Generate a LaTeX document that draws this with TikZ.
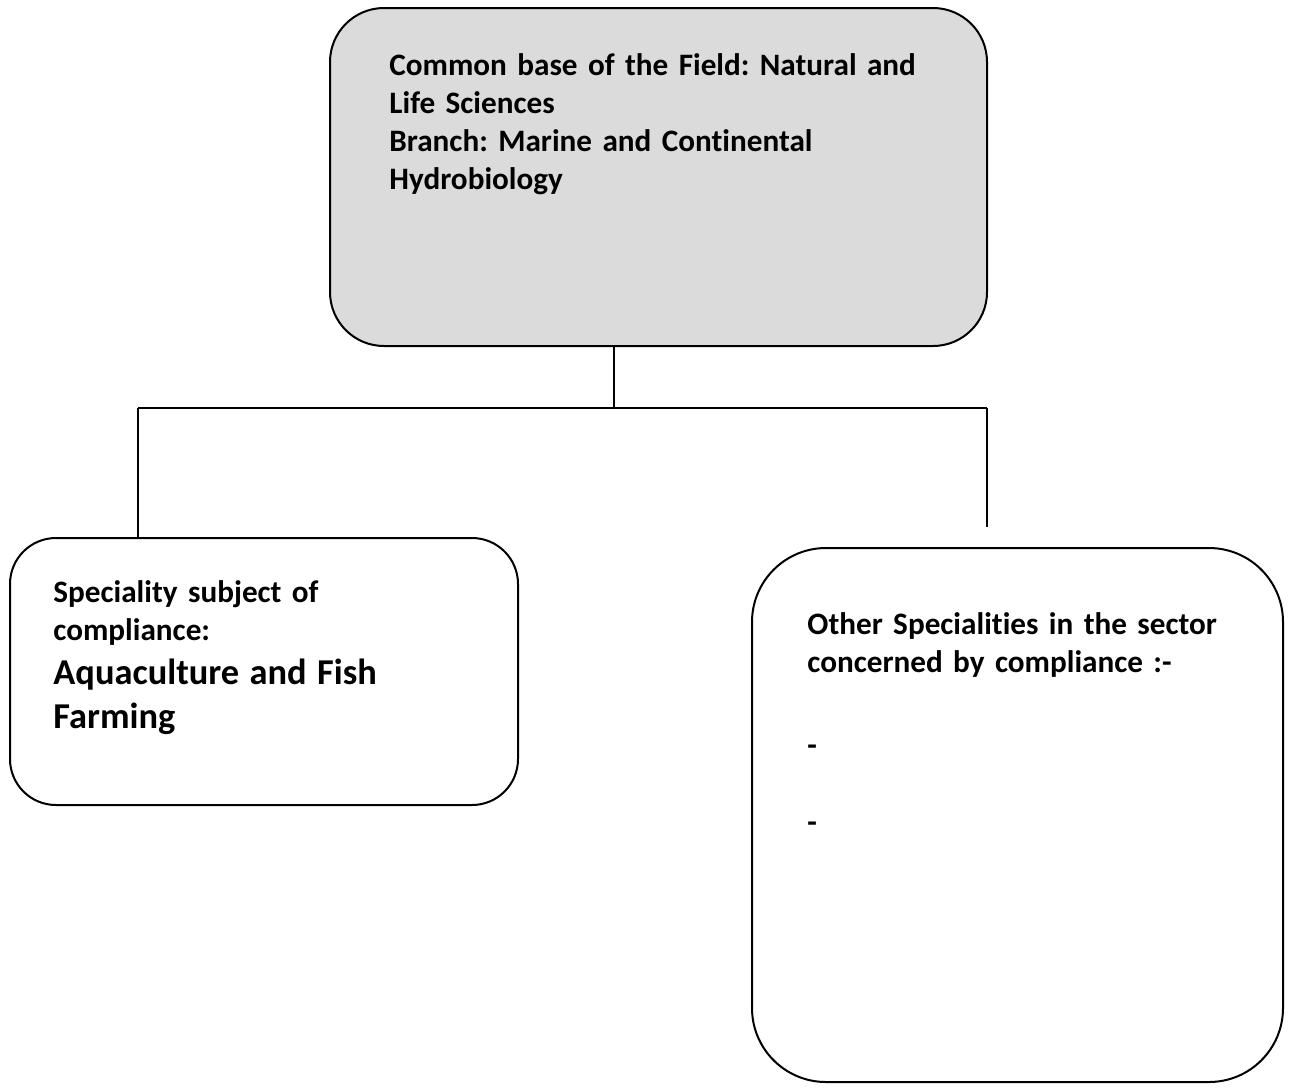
\documentclass[tikz,border=0pt]{standalone}
\usepackage{fontspec}
\setmainfont{Carlito}[Ligatures={NoCommon}]
\usetikzlibrary{calc}
\setlength{\parindent}{0pt}
\frenchspacing
\definecolor{boxgray}{RGB}{219,219,219}

\begin{document}
\begin{tikzpicture}[x=0.5pt,y=-0.5pt,
		caixa/.style={draw,line width=1pt,rectangle,inner sep=0pt},
		texto/.style={anchor=base west,inner sep=0pt,align=left,font=\bfseries\fontsize{15.6}{19}\selectfont},
		ramo/.style={line width=0.75pt}]
	\useasboundingbox (0,0) rectangle (1289,1088);
	\node [caixa,fill=boxgray,rounded corners=27pt,minimum width=328.5pt,minimum height=169pt] (base) at (658.5,177) {};
	\node [caixa,rounded corners=23pt,minimum width=254pt,minimum height=133.5pt] (spec1) at (264,671.5) {};
	\node [caixa,rounded corners=37pt,minimum width=265.5pt,minimum height=267pt] (spec2) at (1017.5,815) {};

	\node [texto,text width=280pt] (basetxt) at (389,75) {Common base of the Field: Natural and\\Life Sciences\\Branch: Marine and Continental\\Hydrobiology};
	\node [texto,text width=200pt] (spec1txt) at (53,602) {Speciality subject of\\compliance:\par
		{\fontsize{18.2}{22}\selectfont Aquaculture and Fish\\Farming\par}};
	\node [texto,text width=230pt] (spec2txt) at (807,634) {Other Specialities in the sector\\concerned by compliance :-\\[22.5pt]-\\[19.5pt]-};

	\coordinate (hub) at (614,408);
	\coordinate (left) at (138,408);
	\coordinate (right) at (987,408);
	\coordinate (rightend) at (987,527);
	\draw [ramo] (base.south -| hub) -- (hub);
	\draw [line width=1.25pt] (left) -- (right);
	\draw [ramo] (left) -- ($(left |- spec1.north)+(0,2)$);
	\draw [ramo] (right) -- (rightend);
\end{tikzpicture}
\end{document}
